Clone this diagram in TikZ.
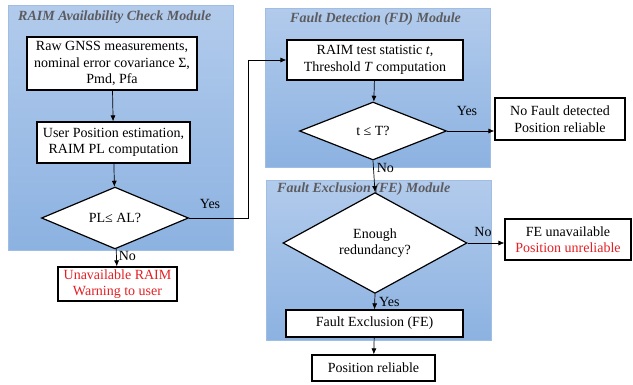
\documentclass[tikz,border=0pt]{standalone}
\usepackage{fontspec}
\setmainfont{Liberation Serif}
\usetikzlibrary{shapes.geometric,arrows.meta}
\definecolor{paneltop}{RGB}{178,203,236}
\definecolor{panelbot}{RGB}{140,178,225}
\definecolor{paneledge}{RGB}{160,190,226}
\definecolor{titlegray}{RGB}{92,92,96}
\definecolor{warnred}{RGB}{228,32,36}
\newcommand{\basefont}{\fontsize{14}{16.5}\selectfont}
\tikzset{
    module/.style={draw=paneledge,line width=0.8pt,top color=paneltop,bottom color=panelbot},
    modtitle/.style={anchor=west,inner sep=0pt,text=titlegray,font=\basefont\bfseries\itshape},
    block/.style={draw,fill=white,line width=1.2pt,align=center,inner sep=0pt},
    decision/.style={diamond,draw,fill=white,line width=1.2pt,align=center,inner sep=0pt},
    flow/.style={-{Latex[length=6pt,width=5pt]},line width=0.7pt},
    tag/.style={inner sep=0pt}
}

\begin{document}
\begin{tikzpicture}[x=1pt,y=-1pt,font=\basefont]
\useasboundingbox (0,0) rectangle (633,384);
% modules
\path[module](8,5) rectangle (233,250);
\path[module](265,8) rectangle (490,167);
\path[module](266,180) rectangle (491,340);
\node[modtitle](t1) at (18,17){RAIM Availability Check Module};
\node[modtitle](t2) at (290,19){Fault Detection (FD) Module};
\node[modtitle](t3) at (277,189){Fault Exclusion (FE) Module};
% availability check
\node[block,minimum width=170,minimum height=53](raw) at (112,63.5){Raw GNSS measurements,\\nominal error covariance Σ,\\Pmd, Pfa};
\node[block,minimum width=153,minimum height=41](pos) at (113.5,142.5){User Position estimation,\\RAIM PL computation};
\node[decision,minimum width=147,minimum height=48](pl) at (115,218){PL≤ AL?};
\node[block,minimum width=119,minimum height=34,text=warnred](unav) at (117.5,284){Unavailable RAIM\\Warning to user};
% detection
\node[block,minimum width=176,minimum height=40](stat) at (375,60){RAIM test statistic \textit{t},\\Threshold \textit{T} computation};
\node[decision,minimum width=147,minimum height=58](tT) at (373,131){t ≤ T?};
\node[block,minimum width=130,minimum height=42](nofault) at (560,119){No Fault detected\\Position reliable};
% exclusion
\node[decision,minimum width=184,minimum height=82](red) at (375,243){Enough\\redundancy?};
\node[block,minimum width=126,minimum height=41](feun) at (568,239.5){FE unavailable\\\textcolor{warnred}{Position unreliable}};
\node[block,minimum width=177,minimum height=27](fe) at (374.5,323.5){Fault Exclusion (FE)};
\node[block,minimum width=123,minimum height=26](rel) at (373.5,368){Position reliable};
% connectors
\coordinate (bend) at (248,218);
\draw[flow](raw)--(pos);
\draw[flow](pos)--(pl);
\draw[flow](pl)--(unav)node[tag,pos=0.4,right=2pt]{No};
\draw[flow](pl.east)--(bend)|-(stat.west);
\node[tag](yes1) at (210,204){Yes};
\draw[flow](stat)--(tT);
\draw[flow](tT.east)--(nofault.west|-tT.east);
\node[tag](yes2) at (467,111){Yes};
\draw[flow](tT.south)--(red.north)node[tag,pos=0.25,right=3pt]{No};
\draw[flow](red.east)--(feun.west|-red.east);
\node[tag](no3) at (483,232){No};
\draw[flow](red.south)--(fe.north)node[tag,midway,right=4pt]{Yes};
\draw[flow](fe)--(rel);
\end{tikzpicture}
\end{document}
